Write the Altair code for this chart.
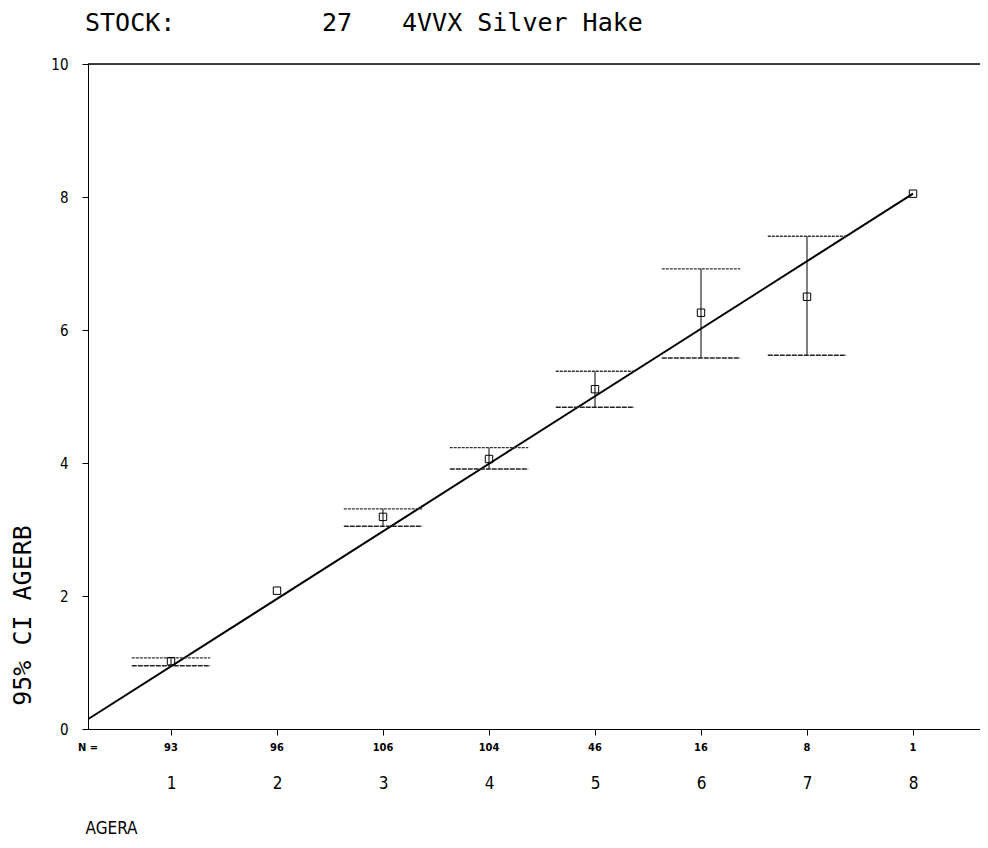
import altair as alt
import pandas as pd

# ---- data ----
ages = [1, 2, 3, 4, 5, 6, 7, 8]
n_obs = [93, 96, 106, 104, 46, 16, 8, 1]
mean_b = [1.02, 2.08, 3.19, 4.06, 5.11, 6.26, 6.50, 8.05]
ci_low = [0.95, None, 3.05, 3.91, 4.84, 5.58, 5.62, None]
ci_high = [1.07, None, 3.31, 4.23, 5.38, 6.92, 7.41, None]
fit_x = [0.22, 8.0]
fit_y = [0.15, 8.05]
y_ticks = [0, 2, 4, 6, 8, 10]
title_parts = ["STOCK:", "27", "4VVX Silver Hake"]

FONT = "Liberation Sans Narrow, DejaVu Sans Condensed, Roboto Condensed, Roboto, DejaVu Sans"
MONO = "DejaVu Sans Mono, Liberation Mono, monospace"

W, H = 892, 665
CAP = 0.37

pts = pd.DataFrame({"age": ages, "n": [str(v) for v in n_obs], "mean": mean_b})
ci = pd.DataFrame({"age": ages, "low": ci_low, "high": ci_high}).dropna()
fit = pd.DataFrame({"x": fit_x, "y": fit_y})

xs = alt.Scale(domain=[0.217, 8.632], nice=False, zero=False)
ys = alt.Scale(domain=[0, 10], nice=False)

x_axis = alt.Axis(values=ages, format="d", grid=False, tickSize=6, tickColor="black",
                  domainColor="black", labelPadding=40, labelFontSize=17,
                  labelFont=FONT, labelColor="black", labelAngle=0,
                  title="AGERA", titleX=-3, titleY=99, titleAlign="left",
                  titleBaseline="middle", titleFontSize=17, titleFont=FONT,
                  titleFontWeight="normal", titleColor="black")
y_axis = alt.Axis(values=y_ticks, format="d", grid=False, tickSize=6, tickColor="black",
                  domainColor="black", labelPadding=14, labelFontSize=15,
                  labelFont=FONT, labelColor="black",
                  title="95% CI AGERB", titleX=-66, titleY=551, titleAngle=270,
                  titleAlign="center", titleBaseline="middle", titleFontSize=25,
                  titleFont=MONO, titleFontWeight="normal", titleColor="black")

base_pts = alt.Chart(pts)

frame_top = alt.Chart(pd.DataFrame({"y": [10]})).mark_rule(color="black", strokeWidth=1.5).encode(
    y=alt.Y("y:Q", scale=ys, axis=y_axis)
)

line = alt.Chart(fit).mark_line(color="black", strokeWidth=2).encode(
    x=alt.X("x:Q", scale=xs, axis=x_axis),
    y=alt.Y("y:Q", scale=ys, axis=y_axis),
)

vbars = alt.Chart(ci).mark_rule(color="black", strokeWidth=1).encode(
    x=alt.X("age:Q", scale=xs),
    y=alt.Y("low:Q", scale=ys),
    y2="high:Q",
)

caps_hi = alt.Chart(ci).transform_calculate(
    x1=f"datum.age - {CAP}", x2=f"datum.age + {CAP}"
).mark_rule(color="#333333", strokeWidth=1.3, strokeDash=[3, 1]).encode(
    x=alt.X("x1:Q", scale=xs), x2="x2:Q", y=alt.Y("high:Q", scale=ys)
)
caps_lo = alt.Chart(ci).transform_calculate(
    x1=f"datum.age - {CAP}", x2=f"datum.age + {CAP}"
).mark_rule(color="#222222", strokeWidth=1.5, strokeDash=[5, 1]).encode(
    x=alt.X("x1:Q", scale=xs), x2="x2:Q", y=alt.Y("low:Q", scale=ys)
)

squares = base_pts.mark_point(shape="square", filled=False, size=55,
                              color="black", strokeWidth=1, opacity=1).encode(
    x=alt.X("age:Q", scale=xs),
    y=alt.Y("mean:Q", scale=ys),
)

n_text = base_pts.mark_text(fontSize=11, fontWeight="bold", font=FONT,
                            baseline="middle", color="black").encode(
    x=alt.X("age:Q", scale=xs),
    y=alt.value(H + 19),
    text="n:N",
)
n_label = alt.Chart(pd.DataFrame({"t": ["N ="]})).mark_text(
    fontSize=11, fontWeight="bold", font=FONT, baseline="middle", align="center", color="black"
).encode(x=alt.value(0), y=alt.value(H + 19), text="t:N")

title_df = pd.DataFrame({"t": title_parts})
TY = -41
t1 = alt.Chart(title_df).transform_filter(alt.datum.t == title_parts[0]).mark_text(
    fontSize=25, font=MONO, align="left", baseline="middle", color="black"
).encode(x=alt.value(-3), y=alt.value(TY), text="t:N")
t2 = alt.Chart(title_df).transform_filter(alt.datum.t == title_parts[1]).mark_text(
    fontSize=25, font=MONO, align="left", baseline="middle", color="black"
).encode(x=alt.value(234), y=alt.value(TY), text="t:N")
t3 = alt.Chart(title_df).transform_filter(alt.datum.t == title_parts[2]).mark_text(
    fontSize=25, font=MONO, align="left", baseline="middle", color="black"
).encode(x=alt.value(314), y=alt.value(TY), text="t:N")

chart = alt.layer(
    frame_top, line, vbars, caps_hi, caps_lo, squares, n_text, n_label, t1, t2, t3
).properties(
    width=W, height=H,
    autosize=alt.AutoSizeParams(type="none"),
    padding={"left": 80, "top": 56, "right": 0, "bottom": 110},
).configure_view(strokeWidth=0).configure(background="white")

chart.save("out.html", embed_options={"renderer": "svg", "actions": False})
